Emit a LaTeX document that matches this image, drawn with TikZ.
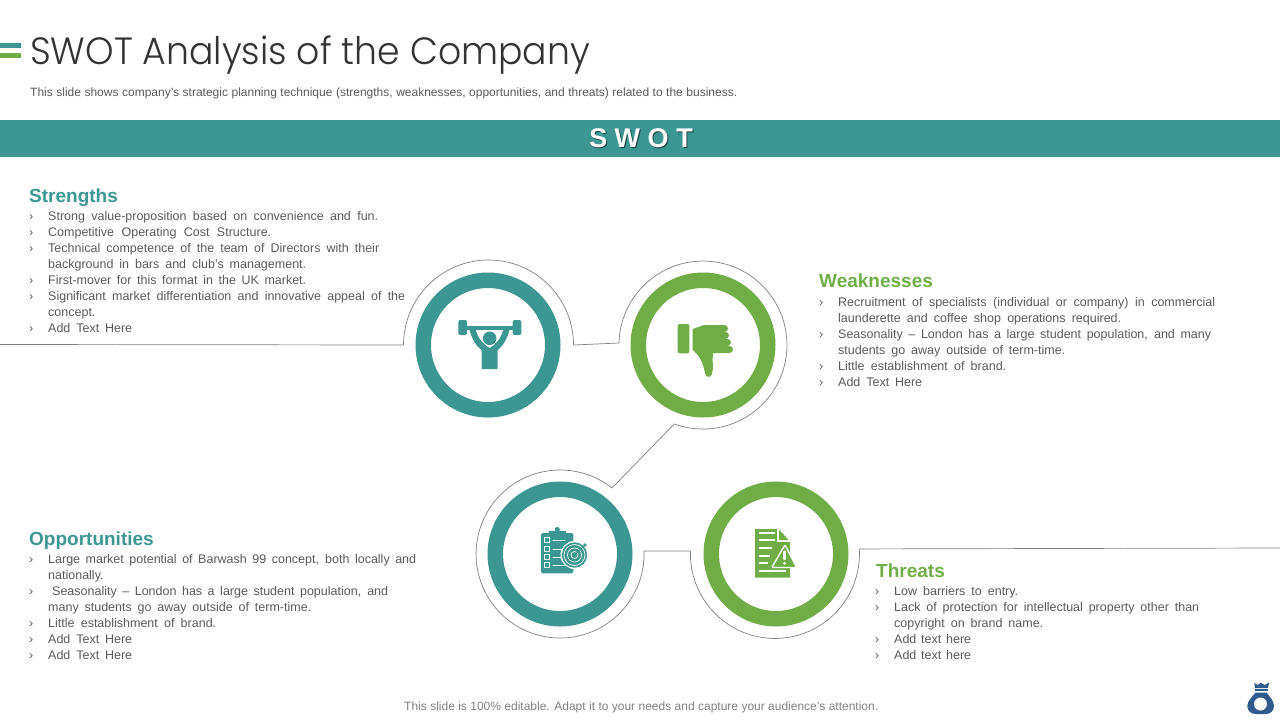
\documentclass[tikz,border=0pt]{standalone}
\usepackage{fontspec}
\setmainfont{Liberation Sans}
\newfontfamily\titlefont{Poppins}[UprightFont=* Light]
\definecolor{swotteal}{HTML}{3C9692}
\definecolor{swotgreen}{HTML}{70AD47}
\definecolor{swotblue}{HTML}{2F5B8C}
\definecolor{bodygray}{HTML}{595959}
\tikzset{
  ringnode/.style={circle,inner sep=0pt,outer sep=0pt,minimum size=129.5pt,line width=15.5pt},
  headnode/.style={anchor=base west,inner sep=0pt,font=\bfseries\fontsize{19}{19}\selectfont},
  bodynode/.style={anchor=base west,inner sep=0pt,yshift=-4pt,text=bodygray,font=\fontsize{12.5}{16}\selectfont},
  notenode/.style={bodynode,font=\fontsize{12}{16}\selectfont},
  outline/.style={draw=black!50,line width=0.7pt}
}
\begin{document}
\begin{tikzpicture}[line cap=round,line join=round,x=1pt,y=-1pt]
\useasboundingbox (0,0) rectangle (1280,720);
% title
\fill [swotteal] (0,43) rectangle (21,48.3);
\fill [swotgreen] (0,52.7) rectangle (21,58.3);
\node [anchor=base west,inner sep=0pt,text=black!80] (title) at (30,64.5) {\scalebox{0.953}[1]{\titlefont\fontsize{38}{38}\selectfont SWOT Analysis of the Company}};
\node [notenode] (subtitle) at (30,92) {\hbox to 707pt{This slide shows company's strategic planning technique (strengths, weaknesses, opportunities, and threats) related to the business.}};
\fill [swotteal] (0,120) rectangle (1280,157);
\node [inner sep=0pt,text=black!55!swotteal,font=\bfseries\fontsize{27}{27}\selectfont] (swotshade) at (642,139.5) {S W O T};
\node [inner sep=0pt,text=white,font=\bfseries\fontsize{27}{27}\selectfont] (swot) at (641,138.5) {S W O T};
% outline round the rings
\coordinate (lineleft) at (0,344.5);
\coordinate (lineright) at (1280,548);
\draw [outline] (lineleft) -- (403.5,345) arc[start angle=-180,end angle=0,radius=85] -- (619,343)
  arc[start angle=-178.6,end angle=110,radius=84] -- (612,488)
  arc[start angle=-51.8,end angle=-362,radius=84] -- (690.5,551)
  arc[start angle=-178,end angle=-363.4,radius=84.5] -- (lineright);
% rings
\node [ringnode,draw=swotteal] (strengthring) at (488,345) {};
\node [ringnode,draw=swotgreen] (weakring) at (703,345) {};
\node [ringnode,draw=swotteal] (opportring) at (560,554) {};
\node [ringnode,draw=swotgreen] (threatring) at (776,554) {};
% weightlifter
\fill [swotteal,rounded corners=2pt] (458.3,320) rectangle (467,335);
\fill [swotteal,rounded corners=2pt] (512.7,320) rectangle (521.3,335);
\fill [swotteal] (466,326) rectangle (514,330);
\fill [swotteal] (469.5,330) .. controls (472,339) and (476,346) .. (481.7,350) -- (481.7,369) -- (497.7,369) -- (497.7,350) .. controls (503,346) and (507,339) .. (509.5,330) -- cycle;
\fill [white] (476,330) .. controls (478,338) and (483,344) .. (489.7,348) .. controls (496,344) and (501,338) .. (503,330) -- cycle;
\fill [swotteal] (489.7,338.3) circle (6.8);
% thumb down
\fill [swotgreen,rounded corners=2pt] (677.7,324) rectangle (689.3,353.3);
\fill [swotgreen] (692.7,329) -- (704,325) -- (720,325) -- (722,353) -- (713,353)
  .. controls (712,362) and (714,370) .. (711.5,375) .. controls (709.5,378) and (706,377.5) .. (705,373)
  .. controls (703,363) and (700,356) .. (692.7,350) -- cycle;
\draw [swotgreen,line width=7pt] (716,328.5) -- (724.5,328.5);
\draw [swotgreen,line width=7pt] (716,335) -- (725.5,335);
\draw [swotgreen,line width=7pt] (716,342) -- (727.5,342);
\draw [swotgreen,line width=7pt] (716,349.5) -- (729.5,349.5);
% clipboard and target
\fill [swotteal,rounded corners=1.5pt] (541,533) rectangle (573.3,573.3);
\fill [swotteal] (549.3,536) rectangle (566,531);
\fill [swotteal] (557.3,529.5) circle (2.6);
\foreach \yb in {540,549,557,565} {
  \draw [white,line width=0.6pt] (544.5,\yb-2.5) rectangle (549.5,\yb+2.5);
  \draw [white,line width=0.7pt] (553,\yb) -- (565,\yb);
}
\fill [white] (574.5,555) circle (14);
\fill [swotteal] (574.5,555) circle (12.7);
\foreach \rb in {10.5,7,3.5} {
  \draw [white,line width=0.7pt] (574.5,555) circle (\rb);
}
\draw [swotteal,line width=0.9pt] (574.5,555) -- (585,545);
\fill [swotteal] (585,545) circle (1.8);
% document and warning
\fill [swotgreen] (755,529) -- (777,529) -- (777,542) -- (790,542) -- (790,577.7) -- (755,577.7) -- cycle;
\fill [swotgreen] (779,529.5) -- (788.5,540) -- (779,540) -- cycle;
\foreach \yb/\xb in {533/775,540/775,548/772,556/770,563/768,571/786} {
  \draw [white,line width=1.3pt,line cap=butt] (759,\yb) -- (\xb,\yb);
}
\draw [white,fill=swotgreen,line width=1.4pt,rounded corners=1pt] (785,545) -- (796.7,567.5) -- (771.7,567.5) -- cycle;
\draw [white,line width=2.2pt,line cap=round] (784.5,551.5) -- (784.5,559);
\fill [white] (784.5,563.3) circle (1.5);
% money bag
\fill [swotblue] (1254.3,682.7) -- (1257.5,685) -- (1261,682.7) -- (1264.5,685) -- (1269,682.7) -- (1268,688) -- (1255,688) -- cycle;
\fill [swotblue] (1255,689.3) rectangle (1267.5,691);
\fill [swotblue] (1255.5,692.5) -- (1266.5,692.5)
  .. controls (1270,697) and (1274,701) .. (1274,706) .. controls (1274,711) and (1270,714) .. (1266,714)
  -- (1256,714) .. controls (1251,714) and (1247.3,711) .. (1247.3,706) .. controls (1247.3,701) and (1252,697) .. (1255.5,692.5) -- cycle;
\fill [white] (1260.5,704) ellipse (6.5 and 6.5);
% strengths
\node [headnode,text=swotteal] (strengthhead) at (29,202) {Strengths};
\foreach \ypos/\xend/\txt in {216/378/{Strong value-proposition based on convenience and fun.},232/271/{Competitive Operating Cost Structure.},248/379/{Technical competence of the team of Directors with their},264/306/{background in bars and club's management.},280/306/{First-mover for this format in the UK market.},296/405/{Significant market differentiation and innovative appeal of the},312/98/{concept.},328/132/{Add Text Here}} {
  \pgfmathsetlengthmacro{\wline}{(\xend-48)*1pt}
  \node [bodynode] (strength\ypos) at (48,\ypos) {\hbox to \wline{\txt}};
}
\foreach \ypos in {216,232,248,280,296,328} {
  \node [bodynode] (strengthmark\ypos) at (29,\ypos) {›};
}
% weaknesses
\node [headnode,text=swotgreen] (weakhead) at (819,287) {Weaknesses};
\foreach \ypos/\xend/\txt in {302/1215/{Recruitment of specialists (individual or company) in commercial},318/1121/{launderette and coffee shop operations required.},334/1211/{Seasonality – London has a large student population, and many},350/1065/{students go away outside of term-time.},366/1006/{Little establishment of brand.},382/922/{Add Text Here}} {
  \pgfmathsetlengthmacro{\wline}{(\xend-838)*1pt}
  \node [bodynode] (weak\ypos) at (838,\ypos) {\hbox to \wline{\txt}};
}
\foreach \ypos in {302,334,366,382} {
  \node [bodynode] (weakmark\ypos) at (819,\ypos) {›};
}
% opportunities
\node [headnode,text=swotteal] (opporthead) at (29,545) {Opportunities};
\foreach \ypos/\xstart/\xend/\txt in {559/48/416/{Large market potential of Barwash 99 concept, both locally and},575/48/106/{nationally.},591/52/388/{Seasonality – London has a large student population, and},607/48/311/{many students go away outside of term-time.},623/48/216/{Little establishment of brand.},639/48/132/{Add Text Here},655/48/132/{Add Text Here}} {
  \pgfmathsetlengthmacro{\wline}{(\xend-\xstart)*1pt}
  \node [bodynode] (opport\ypos) at (\xstart,\ypos) {\hbox to \wline{\txt}};
}
\foreach \ypos in {559,591,623,639,655} {
  \node [bodynode] (opportmark\ypos) at (29,\ypos) {›};
}
% threats
\node [headnode,text=swotgreen] (threathead) at (876,577) {Threats};
\foreach \ypos/\xend/\txt in {591/1018/{Low barriers to entry.},607/1199/{Lack of protection for intellectual property other than},623/1043/{copyright on brand name.},639/971/{Add text here},655/971/{Add text here}} {
  \pgfmathsetlengthmacro{\wline}{(\xend-894)*1pt}
  \node [bodynode] (threat\ypos) at (894,\ypos) {\hbox to \wline{\txt}};
}
\foreach \ypos in {591,607,639,655} {
  \node [bodynode] (threatmark\ypos) at (875,\ypos) {›};
}
% footer
\node [notenode,text=black!50] (footer) at (404,706) {\hbox to 474pt{This slide is 100\% editable. Adapt it to your needs and capture your audience's attention.}};
\end{tikzpicture}
\end{document}
